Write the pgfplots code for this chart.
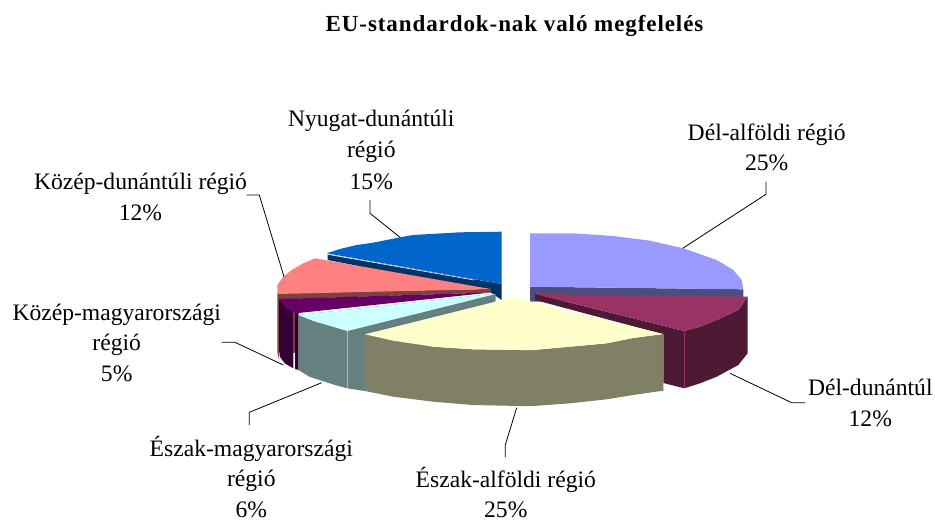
\documentclass[border=0pt]{standalone}
\usepackage{fontspec}
\setmainfont{Liberation Serif}
\newfontfamily\titlefont[LetterSpace=4.0]{Liberation Serif}
\usepackage{pgfplots}
\pgfplotsset{compat=1.18}
\definecolor{lavT}{HTML}{9999FF}\definecolor{lavS}{HTML}{4D4D80}
\definecolor{burT}{HTML}{993366}\definecolor{burS}{HTML}{4D1A33}
\definecolor{yelT}{HTML}{FFFFCC}\definecolor{yelS}{HTML}{808066}
\definecolor{cyaT}{HTML}{CCFFFF}\definecolor{cyaS}{HTML}{668080}
\definecolor{purT}{HTML}{660066}\definecolor{purS}{HTML}{330033}
\definecolor{pnkT}{HTML}{FF8080}\definecolor{pnkS}{HTML}{804040}
\definecolor{bluT}{HTML}{0066CC}\definecolor{bluS}{HTML}{003366}
\begin{document}
\begin{tikzpicture}[lab/.style={anchor=base,inner sep=0pt,font=\fontsize{23.6}{28}\selectfont}]
\begin{axis}[
  width=935pt,height=520pt,scale only axis,
  xmin=0,xmax=935,ymin=0,ymax=520,y dir=reverse,
  axis lines=none,clip=false,
  leader/.style={draw=black,line width=0.8pt,forget plot},
  wedge/.style={draw=none,forget plot},
]
\path (axis cs:0,0) rectangle (axis cs:935,520);
% Nyugat-dunantuli (blue)
\addplot[wedge,fill=bluS] coordinates {(327.7,254) (327.7,260) (490,292) (501.7,300) (501.7,284)} --cycle;
\addplot[wedge,fill=bluT] coordinates {(501.7,231.7) (460,232.3) (413,235) (400,237.3) (373,242.7) (356.7,245) (340,249) (326.7,253.3) (501.7,284)} --cycle;
\addplot[draw=white,line width=0.6pt,forget plot] coordinates {(327,254.2) (474,280)};
% Del-alfoldi (lavender)
\addplot[wedge,fill=lavS] coordinates {(530,286.7) (743.3,289.3) (743.3,297.3) (530,301.7)} --cycle;
\addplot[wedge,fill=lavT] coordinates {(530,233.3) (573.3,233.3) (613.3,236) (650,240.7) (683.3,248.3) (716.7,260) (733.3,270) (741.7,280) (743.3,289.3) (530,286.7)} --cycle;
% Kozep-dunantuli (pink)
\addplot[wedge,fill=pnkS] coordinates {(277.3,293) (490.7,289) (490.7,292.5) (279,299.3) (279,360) (277.3,352)} --cycle;
\addplot[wedge,fill=pnkT] coordinates {(490.7,289) (315,258.3) (303.3,263.3) (291.7,270) (283.3,276.7) (277.3,285) (277.3,294)} --cycle;
% Kozep-magyarorszagi (purple)
\addplot[wedge,fill=purS] coordinates {(279,299) (293.3,312) (293.3,368.3) (285,363.5) (280,357) (279,350)} --cycle;
\addplot[wedge,fill=pnkS] coordinates {(293.3,312) (295,312) (295,353) (293.3,353)} --cycle;
\addplot[wedge,fill=purS] coordinates {(295,312) (298.5,312) (298.5,370) (295,369)} --cycle;
\addplot[wedge,fill=purT] coordinates {(279,299) (490.7,292.5) (298.5,313) (293.3,312.7) (285,307)} --cycle;
% Eszak-magyarorszagi (cyan)
\addplot[wedge,fill=cyaS] coordinates {(298.3,315) (491.7,294) (495.7,294) (495.7,301) (365,391) (347.3,388.3) (335,385) (310,377) (298.3,370)} --cycle;
\addplot[wedge,fill=cyaT] coordinates {(491.7,294) (298.3,315) (313.3,321) (347.3,331) (495.7,294)} --cycle;
\addplot[draw=cyaS!55!white,line width=0.5pt,forget plot] coordinates {(347.3,331) (347.3,388.3)};
% Del-dunantul (burgundy)
\addplot[wedge,fill=burS] coordinates {(535,294) (684.3,331) (700,326.7) (716.7,320) (738.3,310) (747.7,296.7) (747.7,353.3) (738.3,365) (716.7,376.7) (700,383.3) (684.3,388.3) (663.3,383) (663.3,334.3) (535,300)} --cycle;
\addplot[wedge,fill=burT] coordinates {(535,294) (747.7,296.7) (738.3,310) (716.7,320) (700,326.7) (684.3,331)} --cycle;
\addplot[draw=burT,line width=0.5pt,forget plot] coordinates {(684.3,331) (684.3,388)};
% Eszak-alfoldi (yellow)
\addplot[wedge,fill=yelS] coordinates {(365,334.3) (393.3,340.7) (433.3,346.7) (473,349.3) (520,350) (533,350) (570,346.7) (606.7,343.3) (633,338) (663.3,334) (663.3,390.7) (633,395) (606.7,399.3) (570,403.3) (533,406) (520,406) (473,405) (433.3,401.7) (393.3,396.7) (365,391)} --cycle;
\addplot[wedge,fill=yelT] coordinates {(513.3,297.3) (663.3,334) (633,338) (606.7,343.3) (570,346.7) (533,350) (520,350) (473,349.3) (433.3,346.7) (393.3,340.7) (365,334.3)} --cycle;
% leader lines
\addplot[leader] coordinates {(370,200) (370,213.3) (400,237.3)};
\addplot[leader] coordinates {(766,181.7) (766,194.3) (682.7,248.3)};
\addplot[leader] coordinates {(246.7,195) (259.3,195) (284,276.7)};
\addplot[leader] coordinates {(221.7,342.3) (235,342.3) (283.3,365)};
\addplot[leader] coordinates {(249.3,425) (249.3,412.3) (321.7,382.7)};
\addplot[leader] coordinates {(505.3,457.3) (505.3,445) (516.7,407.7)};
\addplot[leader] coordinates {(730,373.3) (791.7,402.7) (805,402.7)};
% text
\node[anchor=base,inner sep=0pt,font=\fontsize{23}{28}\selectfont\titlefont\bfseries] at (axis cs:514.5,31) {EU-standardok-nak való megfelelés};
\node[lab] at (axis cs:371.3,126) {Nyugat-dunántúli};
\node[lab] at (axis cs:371.3,157.3) {régió};
\node[lab] at (axis cs:371.3,189.3) {15\%};
\node[lab] at (axis cs:766.7,140) {Dél-alföldi régió};
\node[lab] at (axis cs:766.7,170) {25\%};
\node[lab] at (axis cs:140.5,189.3) {Közép-dunántúli régió};
\node[lab] at (axis cs:140.5,220) {12\%};
\node[lab] at (axis cs:116.7,320) {Közép-magyarországi};
\node[lab] at (axis cs:116.7,350.7) {régió};
\node[lab] at (axis cs:116.7,381.7) {5\%};
\node[lab] at (axis cs:251.3,456.7) {Észak-magyarországi};
\node[lab] at (axis cs:251.3,486.7) {régió};
\node[lab] at (axis cs:251.3,517) {6\%};
\node[lab] at (axis cs:505.8,487.3) {Észak-alföldi régió};
\node[lab] at (axis cs:505.8,517) {25\%};
\node[lab] at (axis cs:870.3,395.7) {Dél-dunántúl};
\node[lab] at (axis cs:870.3,426.7) {12\%};
\end{axis}
\end{tikzpicture}
\end{document}
